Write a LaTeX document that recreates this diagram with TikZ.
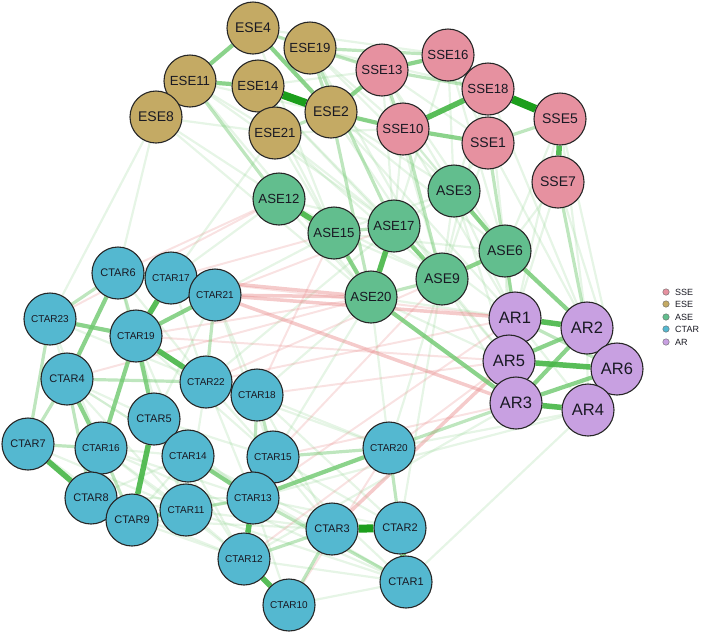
\documentclass[tikz,border=0pt]{standalone}
\usepackage{fontspec}
\setmainfont{Liberation Sans}
\usetikzlibrary{backgrounds}
\definecolor{cSSE}{RGB}{230,145,160}
\definecolor{cESE}{RGB}{196,170,100}
\definecolor{cASE}{RGB}{98,190,142}
\definecolor{cCTAR}{RGB}{84,184,208}
\definecolor{cAR}{RGB}{200,160,225}
\definecolor{gDark}{RGB}{28,158,28}
\definecolor{gMid}{RGB}{70,182,70}
\definecolor{gLight}{RGB}{110,200,110}
\definecolor{gFaint}{RGB}{140,210,140}
\definecolor{rEdge}{RGB}{232,140,140}
\definecolor{txt}{RGB}{25,25,35}
\tikzset{
  nd/.style={circle,draw=black!85,line width=1.1pt,minimum size=52pt,inner sep=0pt,text=txt},
  sse/.style={nd,fill=cSSE},
  ese/.style={nd,fill=cESE},
  ase/.style={nd,fill=cASE},
  ctar/.style={nd,fill=cCTAR},
  arn/.style={nd,fill=cAR},
  fA/.style={font=\fontsize{16.5}{16.5}\selectfont},
  fB/.style={font=\fontsize{14}{14}\selectfont},
  fC/.style={font=\fontsize{13.2}{13.2}\selectfont},
  fD/.style={font=\fontsize{11}{11}\selectfont},
  fE/.style={font=\fontsize{10}{10}\selectfont},
  wA/.style={draw=gFaint,line width=2.2pt,draw opacity=0.22},
  wB/.style={draw=gLight,line width=3.2pt,draw opacity=0.45},
  wC/.style={draw=gLight,line width=4.2pt,draw opacity=0.8},
  wD/.style={draw=gMid,line width=5.5pt,draw opacity=0.9},
  wE/.style={draw=gDark,line width=8pt},
  rA/.style={draw=rEdge,line width=2pt,draw opacity=0.25},
  rB/.style={draw=rEdge,line width=3.5pt,draw opacity=0.45},
  legdot/.style={circle,draw=black!60,line width=0.4pt,minimum size=6.5pt,inner sep=0pt},
  legtxt/.style={anchor=west,inner sep=0pt,font=\fontsize{9}{9}\selectfont,text=txt}
}
\newcommand\edges[2]{\foreach \a/\b in {#2}{\draw[#1] (\a) -- (\b);}}
\begin{document}
\begin{tikzpicture}[x=1pt,y=-1pt]
\useasboundingbox (0,0) rectangle (704,633);
% ---------------- nodes ----------------
\node[ese,fB] (ESE4) at (253,28) {ESE4};
\node[ese,fC] (ESE19) at (310,48) {ESE19};
\node[ese,fC] (ESE11) at (190,81) {ESE11};
\node[ese,fC] (ESE14) at (258,86) {ESE14};
\node[ese,fB] (ESE8) at (156,117) {ESE8};
\node[ese,fB] (ESE2) at (331,112) {ESE2};
\node[ese,fC] (ESE21) at (275,133) {ESE21};
\node[sse,fC] (SSE13) at (382,70) {SSE13};
\node[sse,fC] (SSE16) at (448,55) {SSE16};
\node[sse,fC] (SSE18) at (488,89) {SSE18};
\node[sse,fC] (SSE10) at (403,129) {SSE10};
\node[sse,fB] (SSE1) at (488,143) {SSE1};
\node[sse,fB] (SSE5) at (560,119) {SSE5};
\node[sse,fB] (SSE7) at (558,182) {SSE7};
\node[ase,fB] (ASE3) at (454,191) {ASE3};
\node[ase,fC] (ASE12) at (279,199) {ASE12};
\node[ase,fC] (ASE15) at (334,233) {ASE15};
\node[ase,fC] (ASE17) at (394,226) {ASE17};
\node[ase,fB] (ASE6) at (505,251) {ASE6};
\node[ase,fB] (ASE9) at (442,279) {ASE9};
\node[ase,fC] (ASE20) at (371,297) {ASE20};
\node[arn,fA] (AR1) at (515,318) {AR1};
\node[arn,fA] (AR2) at (587,328) {AR2};
\node[arn,fA] (AR5) at (509,361) {AR5};
\node[arn,fA] (AR6) at (617,369) {AR6};
\node[arn,fA] (AR3) at (516,403) {AR3};
\node[arn,fA] (AR4) at (588,410) {AR4};
\node[ctar,fD] (CTAR6) at (118,273) {CTAR6};
\node[ctar,fE] (CTAR17) at (171,278) {CTAR17};
\node[ctar,fE] (CTAR21) at (215,295) {CTAR21};
\node[ctar,fE] (CTAR23) at (50,319) {CTAR23};
\node[ctar,fE] (CTAR19) at (136,336) {CTAR19};
\node[ctar,fD] (CTAR4) at (67,379) {CTAR4};
\node[ctar,fE] (CTAR22) at (206,382) {CTAR22};
\node[ctar,fE] (CTAR18) at (257,395) {CTAR18};
\node[ctar,fD] (CTAR5) at (154,419) {CTAR5};
\node[ctar,fD] (CTAR7) at (28,444) {CTAR7};
\node[ctar,fE] (CTAR16) at (101,448) {CTAR16};
\node[ctar,fE] (CTAR14) at (188,456) {CTAR14};
\node[ctar,fE] (CTAR15) at (273,457) {CTAR15};
\node[ctar,fE] (CTAR20) at (389,448) {CTAR20};
\node[ctar,fD] (CTAR8) at (91,498) {CTAR8};
\node[ctar,fE] (CTAR13) at (253,498) {CTAR13};
\node[ctar,fE] (CTAR11) at (186,510) {CTAR11};
\node[ctar,fD] (CTAR9) at (132,520) {CTAR9};
\node[ctar,fD] (CTAR3) at (332,529) {CTAR3};
\node[ctar,fD] (CTAR2) at (400,528) {CTAR2};
\node[ctar,fE] (CTAR12) at (244,559) {CTAR12};
\node[ctar,fD] (CTAR1) at (406,582) {CTAR1};
\node[ctar,fE] (CTAR10) at (289,605) {CTAR10};
% ---------------- legend ----------------
\node[legdot,fill=cSSE] (L1) at (666,292) {};
\node[legdot,fill=cESE] (L2) at (666,304) {};
\node[legdot,fill=cASE] (L3) at (666,317) {};
\node[legdot,fill=cCTAR] (L4) at (666,329) {};
\node[legdot,fill=cAR] (L5) at (666,342) {};
\node[legtxt] (T1) at (675,292) {SSE};
\node[legtxt] (T2) at (675,304) {ESE};
\node[legtxt] (T3) at (675,317) {ASE};
\node[legtxt] (T4) at (675,329) {CTAR};
\node[legtxt] (T5) at (675,342) {AR};
% ---------------- edges (behind nodes) ----------------
\begin{scope}[on background layer]
\edges{wA}{ESE8/CTAR6,ESE8/CTAR23,ESE8/ASE20,ESE11/ASE20,ESE11/SSE10,ESE14/SSE13,ESE14/ASE17,
 ESE21/ASE20,ESE21/SSE10,ESE21/ASE9,ESE19/SSE18,ESE19/SSE10,ESE4/SSE16,ESE2/ASE3,ESE2/ASE6,ESE2/AR1,
 SSE13/ASE3,SSE13/ASE17,SSE13/ASE6,SSE16/ASE3,SSE16/ASE6,SSE18/ASE3,SSE18/AR2,SSE1/AR2,SSE5/AR2,
 SSE7/AR6,SSE5/AR6,SSE10/ASE3,SSE10/ASE6,ASE12/CTAR17,ASE17/AR1,ASE3/AR5,ASE9/AR5,ASE9/AR3,
 ASE20/AR5,ASE6/AR5,ASE3/ASE9,ASE12/ASE17,ASE15/ASE9,ASE12/ASE20,CTAR21/CTAR18,CTAR21/CTAR15,
 CTAR22/CTAR20,CTAR18/CTAR20,CTAR18/CTAR3,CTAR15/CTAR1,CTAR13/CTAR2,CTAR11/CTAR3,CTAR9/CTAR13,
 CTAR8/CTAR11,CTAR16/CTAR14,CTAR16/CTAR11,CTAR4/CTAR14,CTAR4/CTAR11,CTAR23/CTAR4,CTAR16/CTAR13,
 CTAR5/CTAR13,CTAR5/CTAR15,CTAR22/CTAR15,CTAR22/CTAR11,CTAR14/CTAR12,CTAR11/CTAR12,CTAR9/CTAR12,
 CTAR12/CTAR1,CTAR10/CTAR1,CTAR20/AR4,CTAR1/AR4,CTAR20/ASE9,CTAR20/ASE20,CTAR15/ASE20,CTAR18/ASE20,
 CTAR2/ASE9,CTAR22/ASE17,CTAR17/ESE21,CTAR8/CTAR13,CTAR9/CTAR3,CTAR16/CTAR1,CTAR14/CTAR3,CTAR4/CTAR13,
 CTAR23/CTAR22,CTAR19/CTAR14,CTAR19/CTAR11,CTAR6/CTAR22,ESE8/ESE21,ESE11/ESE21,ESE4/SSE13,SSE16/SSE1,
 SSE13/SSE1,SSE18/SSE1,SSE10/ASE17,SSE1/ASE3,SSE7/ASE6,ASE17/ASE3,ASE15/ASE6,ASE20/AR1,AR1/AR4,AR2/AR4,
 ESE4/ASE15,ESE14/ASE15,ESE14/ASE9,ESE19/ASE3,ESE19/ASE9,ESE2/ASE9,ESE21/ASE17,ESE8/ASE15,ESE11/ASE17,
 SSE16/ASE17,SSE18/ASE6,SSE18/ASE9,SSE1/ASE9,SSE5/ASE6,SSE10/AR1,SSE13/ASE9,SSE7/AR1,SSE5/AR1,
 ASE12/ASE9,ASE15/ASE3,ASE17/AR5,ASE6/AR3,ASE3/AR1,ASE15/CTAR21,CTAR7/CTAR9,CTAR7/CTAR11,
 CTAR8/CTAR14,CTAR9/CTAR14,CTAR16/CTAR12,CTAR8/CTAR12,CTAR11/CTAR1,CTAR14/CTAR1,CTAR13/CTAR10,
 CTAR15/CTAR3,CTAR15/CTAR2,CTAR18/CTAR2,CTAR22/CTAR13,CTAR5/CTAR11,CTAR5/CTAR12,CTAR19/CTAR15,
 CTAR23/CTAR16,CTAR6/CTAR5,CTAR17/CTAR22,CTAR21/CTAR5,CTAR4/CTAR5,CTAR12/AR3,CTAR13/AR4}
\edges{rA}{CTAR17/ASE15,CTAR19/ASE20,CTAR22/AR1,CTAR18/AR5,CTAR15/ASE9,CTAR6/ASE12,CTAR21/ASE17,
 CTAR13/AR1,CTAR12/AR5,CTAR17/AR1,CTAR19/AR5,CTAR4/ASE20,CTAR10/CTAR20,CTAR23/ASE12,CTAR18/ASE15,
 CTAR15/AR3,CTAR22/ASE9}
\edges{rB}{CTAR21/ASE20,CTAR21/AR1,CTAR21/AR3,CTAR3/AR5,CTAR17/ASE20}
\edges{wB}{ESE4/ESE19,ESE19/SSE13,ESE11/ESE8,ESE11/ASE12,ESE21/ESE2,ESE14/ESE21,ESE19/ESE2,ESE19/ASE17,
 ESE2/ASE20,SSE1/SSE5,SSE13/SSE18,SSE16/SSE18,SSE13/SSE10,SSE16/ESE19,SSE10/ASE9,SSE1/AR1,SSE7/AR2,
 ASE15/ASE17,ASE20/ASE9,ASE6/AR1,AR2/AR6,AR4/AR6,AR1/AR6,CTAR23/CTAR6,CTAR6/CTAR19,CTAR4/CTAR22,
 CTAR5/CTAR14,CTAR7/CTAR16,CTAR7/CTAR4,CTAR7/CTAR23,CTAR14/CTAR11,CTAR11/CTAR13,CTAR15/CTAR20,
 CTAR15/CTAR18,CTAR22/CTAR18,CTAR18/CTAR13,CTAR20/CTAR2,CTAR3/CTAR12,CTAR10/CTAR3,CTAR1/CTAR13,
 CTAR21/CTAR22,CTAR17/CTAR21,CTAR20/AR3,CTAR8/CTAR9,CTAR4/CTAR8,CTAR16/CTAR9}
\edges{wC}{ESE11/ESE14,ESE11/ESE4,ESE4/ESE2,ESE2/SSE13,ESE2/SSE10,SSE10/SSE1,SSE13/SSE16,ASE15/ASE20,
 ASE17/ASE9,ASE9/ASE6,ASE3/ASE6,ASE6/AR2,ASE20/AR3,AR3/AR2,AR5/AR2,AR1/AR5,AR5/AR3,AR3/AR6,
 CTAR21/CTAR19,CTAR23/CTAR19,CTAR6/CTAR4,CTAR4/CTAR16,CTAR19/CTAR5,CTAR19/CTAR16,CTAR9/CTAR11,
 CTAR14/CTAR13,CTAR13/CTAR20}
\edges{wD}{SSE5/SSE7,SSE18/SSE10,ASE17/ASE20,AR1/AR2,AR3/AR4,CTAR6/CTAR17,CTAR17/CTAR19,CTAR19/CTAR22,
 CTAR5/CTAR9,CTAR7/CTAR8,CTAR13/CTAR12,CTAR12/CTAR10,CTAR2/CTAR1,ASE12/ASE15,AR5/AR6}
\edges{wE}{ESE14/ESE2,SSE18/SSE5,CTAR3/CTAR2}
\end{scope}
\end{tikzpicture}
\end{document}
